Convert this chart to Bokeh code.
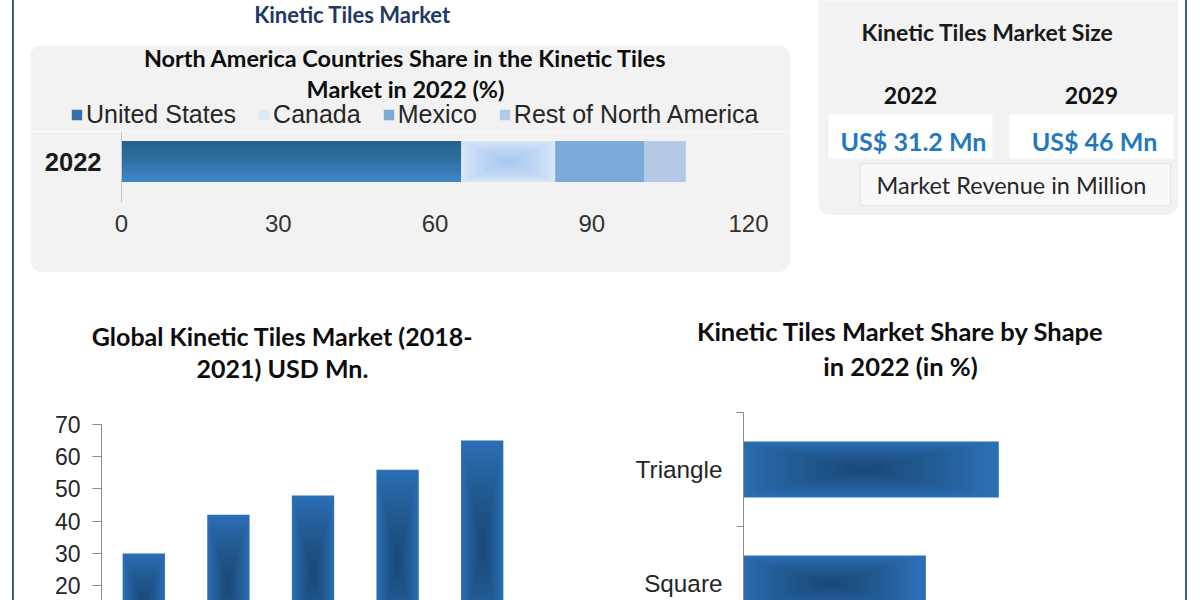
from bokeh.plotting import figure
from bokeh.models import Range1d, FactorRange, FixedTicker, Legend, LegendItem, Spacer
from bokeh.layouts import row, column
from bokeh.core.properties import value
from bokeh.embed import file_html
from bokeh.resources import INLINE

# ---------------- data ----------------
main_title = "Kinetic Tiles Market"

na_title = ["North America Countries Share in the Kinetic Tiles", "Market in 2022 (%)"]
na_year = "2022"
na_countries = ["United States", "Canada", "Mexico", "Rest of North America"]
na_shares = [65, 18, 17, 8]
na_ticks = [0, 30, 60, 90, 120]

size_title = "Kinetic Tiles Market Size"
size_years = ["2022", "2029"]
size_values = ["US$ 31.2 Mn", "US$ 46 Mn"]
size_caption = "Market Revenue in Million"

glob_title = ["Global Kinetic Tiles Market (2018-", "2021) USD Mn."]
glob_years = ["2018", "2019", "2020", "2021", "2022"]
glob_values = [30, 42, 48, 56, 65]
glob_ticks = [0, 10, 20, 30, 40, 50, 60, 70]

shape_title = ["Kinetic Tiles Market Share by Shape", "in 2022 (in %)"]
shape_names = ["Triangle", "Square"]
shape_values = [35, 25]

# ---------------- styles ----------------
PANEL = "#f2f2f2"
BORDER = "#3e5e7e"
TITLE_FONT = value("Lato")
TICK_FONT = "Liberation Sans"
AXIS_GRAY = "#8c8c8c"
BAR_BLUE = "#2b6fb5"
BAR_DARK = "#0f2f55"
NA_COLORS = ["#4189cc", "#d9e8f8", "#7eaad9", "#b3c9e6"]
NA_LEGEND_COLORS = ["#3670a8", "#dce9f7", "#7fa8d6", "#b4c9e4"]


def base_fig(w, h, **kw):
    p = figure(width=w, height=h, toolbar_location=None, output_backend="svg", **kw)
    p.xgrid.visible = False
    p.ygrid.visible = False
    p.outline_line_color = None
    p.frame_align = False
    return p


def header(w, h, lines, cx, ys, size, bg, color="#0d0d0d"):
    p = base_fig(w, h, x_range=Range1d(0, w), y_range=Range1d(h, 0), min_border=0)
    p.axis.visible = False
    p.background_fill_color = bg
    p.border_fill_color = bg
    p.text(x=[cx] * len(lines), y=ys, text=lines, text_font=TITLE_FONT,
           text_font_style="bold", text_font_size=size, text_align="center",
           text_baseline="middle", text_color=color)
    return p


# ---------------- top-left: North America ----------------
top_hdr = header(786, 45, [main_title], 338, [14], "22px", "white", "#1f3864")
na_hdr = header(760, 86, na_title, 375, [12, 43], "23.4px", PANEL)

H_BAR = 0.62
lefts = [sum(na_shares[:i]) for i in range(len(na_shares))]
rights = [lefts[i] + na_shares[i] for i in range(len(na_shares))]
y0 = 0  # index of the single category

# legend (drawn in the header area, above the bar); its renderers are hidden copies of the bars
items = []
for i, name in enumerate(na_countries):
    r = na_hdr.hbar(y=[y0], left=[lefts[i]], right=[rights[i]], height=H_BAR,
                    fill_color=NA_LEGEND_COLORS[i], line_color=None, visible=False)
    items.append(LegendItem(label=name, renderers=[r]))
leg = Legend(items=items, orientation="horizontal", location=(40, 2),
             label_text_font=TICK_FONT, label_text_font_size="25px", label_text_color="#262626",
             glyph_width=13, glyph_height=13, label_standoff=3, spacing=21, label_height=24,
             padding=0, margin=0, background_fill_alpha=0, border_line_color=None,
             inactive_fill_alpha=0)
na_hdr.add_layout(leg, "center")

p1 = base_fig(760, 141, x_range=Range1d(0, 120), y_range=Range1d(-0.621, 0.4545),
              min_border_left=91, min_border_right=42, min_border_top=0, min_border_bottom=70)
p1.background_fill_color = PANEL
p1.border_fill_color = PANEL
for i, name in enumerate(na_countries):
    p1.hbar(y=[y0], left=[lefts[i]], right=[rights[i]], height=H_BAR,
            fill_color=NA_COLORS[i], line_color=None)
# US: vertical linear gradient (darker at top)
N = 16
for k in range(N):
    f = 1 - k / N
    p1.hbar(y=[y0 + H_BAR / 2 - H_BAR * f / 2], left=[lefts[0]], right=[rights[0]],
            height=H_BAR * f, fill_color="#1c3f66", fill_alpha=0.045, line_color=None)
# Canada: radial light centre
N = 12
for k in range(N):
    f = 0.95 * (N - k) / N
    c = (lefts[1] + rights[1]) / 2
    p1.rect(x=[c], y=[y0], width=na_shares[1] * f, height=H_BAR * f,
            fill_color="#8fbdec", fill_alpha=0.07, line_color=None)

p1.xaxis.ticker = FixedTicker(ticks=na_ticks)
p1.xaxis.axis_line_color = None
p1.xaxis.major_tick_line_color = None
p1.xaxis.minor_tick_line_color = None
p1.xaxis.major_tick_out = 0
p1.xaxis.major_label_text_font = TICK_FONT
p1.xaxis.major_label_text_font_size = "24px"
p1.xaxis.major_label_text_color = "#333333"
p1.xaxis.major_label_standoff = 12

p1.yaxis.ticker = FixedTicker(ticks=[y0])
p1.yaxis.major_label_overrides = {y0: na_year}
p1.yaxis.axis_line_color = "#c8c8c8"
p1.yaxis.major_tick_line_color = None
p1.yaxis.minor_tick_line_color = None
p1.yaxis.major_tick_out = 0
p1.yaxis.major_label_text_font = TICK_FONT
p1.yaxis.major_label_text_font_style = "bold"
p1.yaxis.major_label_text_font_size = "25.5px"
p1.yaxis.major_label_text_color = "#1a1a1a"
p1.yaxis.major_label_standoff = 20

na_panel = column(na_hdr, p1, styles={"border-radius": "12px", "overflow": "hidden"})
top_left = column(top_hdr, row(Spacer(width=16, height=227), na_panel, Spacer(width=10, height=227)),
                  Spacer(width=786, height=18))

# ---------------- top-right: market size ----------------
KW, KH = 360, 215
kpi = base_fig(KW, KH, x_range=Range1d(0, KW), y_range=Range1d(KH, 0), min_border=0)
kpi.axis.visible = False
kpi.background_fill_color = PANEL
kpi.border_fill_color = PANEL
col_x = [92, 273]
box_w = 164
kpi.rect(x=col_x, y=[136] * 2, width=box_w, height=44, fill_color="white", line_color=None)
kpi.rect(x=[197], y=[184], width=310, height=42, fill_color="#f8f8f8", line_color="#e4e4e4")
kpi.text(x=[169], y=[31], text=[size_title], text_font=TITLE_FONT, text_font_style="bold",
         text_font_size="23px", text_align="center", text_baseline="middle", text_color="#1a1a1a")
kpi.text(x=col_x, y=[95] * 2, text=size_years, text_font=TITLE_FONT, text_font_style="bold",
         text_font_size="23px", text_align="center", text_baseline="middle", text_color="#111111")
kpi.text(x=[c + 3 for c in col_x], y=[140] * 2, text=size_values, text_font=TITLE_FONT,
         text_font_style="bold", text_font_size="25px", text_align="center",
         text_baseline="middle", text_color="#2378bf")
kpi.text(x=[193], y=[184], text=[size_caption], text_font=TITLE_FONT, text_font_size="23.5px",
         text_align="center", text_baseline="middle", text_color="#262626")
top_right = column(column(kpi, styles={"border-radius": "0 0 12px 12px", "overflow": "hidden"}),
                   Spacer(width=KW, height=75))

top_row = row(top_left, Spacer(width=18, height=290), top_right, Spacer(width=7, height=290))

# ---------------- bottom-left: global market ----------------
glob_hdr = header(586, 100, glob_title, 268, [45, 77], "25px", "white")
p3 = base_fig(586, 210, x_range=FactorRange(*glob_years), y_range=Range1d(15.4, 70),
              min_border_left=87, min_border_right=76, min_border_top=34, min_border_bottom=0)
p3.vbar(x=glob_years, top=glob_values, bottom=0, width=0.5, fill_color=BAR_BLUE, line_color=None)
N = 18
for k in range(N):
    f = 0.95 * (N - k) / N
    p3.rect(x=glob_years, y=[v / 2 for v in glob_values], width=0.5 * f,
            height=[v * f for v in glob_values], fill_color=BAR_DARK, fill_alpha=0.04, line_color=None)
p3.xaxis.visible = False
p3.yaxis.ticker = FixedTicker(ticks=glob_ticks)
p3.yaxis.axis_line_color = AXIS_GRAY
p3.yaxis.major_tick_line_color = AXIS_GRAY
p3.yaxis.major_tick_out = 9
p3.yaxis.major_tick_in = 0
p3.yaxis.minor_tick_line_color = None
p3.yaxis.major_label_text_font = TICK_FONT
p3.yaxis.major_label_text_font_size = "23px"
p3.yaxis.major_label_text_color = "#262626"
p3.yaxis.major_label_standoff = 12
bottom_left = column(glob_hdr, p3)

# ---------------- bottom-right: share by shape ----------------
shape_hdr = header(585, 100, shape_title, 300, [40, 75], "25.5px", "white")
shape_y = [i + 0.5 for i in range(len(shape_names))]
bounds = list(range(len(shape_names) + 1))
p4 = base_fig(585, 210, x_range=Range1d(0, 55.8), y_range=Range1d(1.649, 0),
              min_border_left=143, min_border_right=35, min_border_top=22, min_border_bottom=0)
p4.hbar(y=shape_y, left=0, right=shape_values, height=0.49, fill_color=BAR_BLUE, line_color=None)
N = 18
for k in range(N):
    f = 0.95 * (N - k) / N
    p4.rect(x=[v * 0.47 for v in shape_values], y=shape_y, width=[v * f for v in shape_values],
            height=0.49 * f, fill_color=BAR_DARK, fill_alpha=0.04, line_color=None)
p4.xaxis.visible = False
p4.yaxis.ticker = FixedTicker(ticks=shape_y, minor_ticks=bounds)
p4.yaxis.major_label_overrides = {y: n for y, n in zip(shape_y, shape_names)}
p4.yaxis.axis_line_color = AXIS_GRAY
p4.yaxis.major_tick_line_color = None
p4.yaxis.major_tick_out = 0
p4.yaxis.minor_tick_line_color = AXIS_GRAY
p4.yaxis.minor_tick_out = 7
p4.yaxis.minor_tick_in = 0
p4.yaxis.major_label_text_font = TICK_FONT
p4.yaxis.major_label_text_font_size = "24.3px"
p4.yaxis.major_label_text_color = "#262626"
p4.yaxis.major_label_standoff = 14
bottom_right = column(shape_hdr, p4)

bottom_row = row(bottom_left, bottom_right)

content = column(top_row, bottom_row)
layout = row(Spacer(width=12, height=600),
             Spacer(width=2, height=600, styles={"background-color": BORDER}),
             content,
             Spacer(width=2, height=600, styles={"background-color": BORDER}),
             Spacer(width=13, height=600))

open("out.html", "w").write(file_html(layout, INLINE))
